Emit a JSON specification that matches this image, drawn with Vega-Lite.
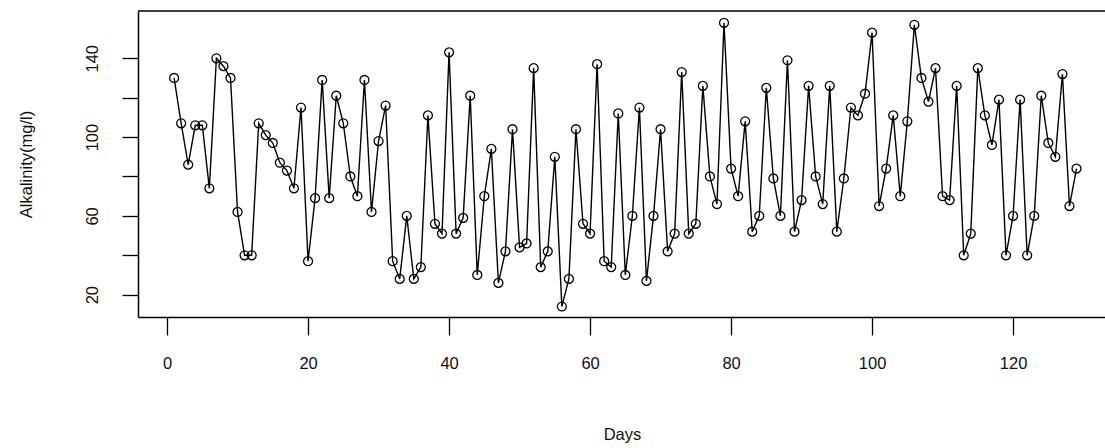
{
  "$schema": "https://vega.github.io/schema/vega-lite/v6.json",
  "width": 967,
  "height": 306,
  "autosize": {"type": "none"},
  "padding": {"left": 138, "top": 11, "right": 0, "bottom": 131},
  "background": "white",
  "config": {"view": {"stroke": null}, "font": "Liberation Sans"},
  "data": {"values": [
    {"day":1,"alk":130},{"day":2,"alk":107},{"day":3,"alk":86},{"day":4,"alk":106},{"day":5,"alk":106},
    {"day":6,"alk":74},{"day":7,"alk":140},{"day":8,"alk":136},{"day":9,"alk":130},{"day":10,"alk":62},
    {"day":11,"alk":40},{"day":12,"alk":40},{"day":13,"alk":107},{"day":14,"alk":101},{"day":15,"alk":97},
    {"day":16,"alk":87},{"day":17,"alk":83},{"day":18,"alk":74},{"day":19,"alk":115},{"day":20,"alk":37},
    {"day":21,"alk":69},{"day":22,"alk":129},{"day":23,"alk":69},{"day":24,"alk":121},{"day":25,"alk":107},
    {"day":26,"alk":80},{"day":27,"alk":70},{"day":28,"alk":129},{"day":29,"alk":62},{"day":30,"alk":98},
    {"day":31,"alk":116},{"day":32,"alk":37},{"day":33,"alk":28},{"day":34,"alk":60},{"day":35,"alk":28},
    {"day":36,"alk":34},{"day":37,"alk":111},{"day":38,"alk":56},{"day":39,"alk":51},{"day":40,"alk":143},
    {"day":41,"alk":51},{"day":42,"alk":59},{"day":43,"alk":121},{"day":44,"alk":30},{"day":45,"alk":70},
    {"day":46,"alk":94},{"day":47,"alk":26},{"day":48,"alk":42},{"day":49,"alk":104},{"day":50,"alk":44},
    {"day":51,"alk":46},{"day":52,"alk":135},{"day":53,"alk":34},{"day":54,"alk":42},{"day":55,"alk":90},
    {"day":56,"alk":14},{"day":57,"alk":28},{"day":58,"alk":104},{"day":59,"alk":56},{"day":60,"alk":51},
    {"day":61,"alk":137},{"day":62,"alk":37},{"day":63,"alk":34},{"day":64,"alk":112},{"day":65,"alk":30},
    {"day":66,"alk":60},{"day":67,"alk":115},{"day":68,"alk":27},{"day":69,"alk":60},{"day":70,"alk":104},
    {"day":71,"alk":42},{"day":72,"alk":51},{"day":73,"alk":133},{"day":74,"alk":51},{"day":75,"alk":56},
    {"day":76,"alk":126},{"day":77,"alk":80},{"day":78,"alk":66},{"day":79,"alk":158},{"day":80,"alk":84},
    {"day":81,"alk":70},{"day":82,"alk":108},{"day":83,"alk":52},{"day":84,"alk":60},{"day":85,"alk":125},
    {"day":86,"alk":79},{"day":87,"alk":60},{"day":88,"alk":139},{"day":89,"alk":52},{"day":90,"alk":68},
    {"day":91,"alk":126},{"day":92,"alk":80},{"day":93,"alk":66},{"day":94,"alk":126},{"day":95,"alk":52},
    {"day":96,"alk":79},{"day":97,"alk":115},{"day":98,"alk":111},{"day":99,"alk":122},{"day":100,"alk":153},
    {"day":101,"alk":65},{"day":102,"alk":84},{"day":103,"alk":111},{"day":104,"alk":70},{"day":105,"alk":108},
    {"day":106,"alk":157},{"day":107,"alk":130},{"day":108,"alk":118},{"day":109,"alk":135},{"day":110,"alk":70},
    {"day":111,"alk":68},{"day":112,"alk":126},{"day":113,"alk":40},{"day":114,"alk":51},{"day":115,"alk":135},
    {"day":116,"alk":111},{"day":117,"alk":96},{"day":118,"alk":119},{"day":119,"alk":40},{"day":120,"alk":60},
    {"day":121,"alk":119},{"day":122,"alk":40},{"day":123,"alk":60},{"day":124,"alk":121},{"day":125,"alk":97},
    {"day":126,"alk":90},{"day":127,"alk":132},{"day":128,"alk":65},{"day":129,"alk":84}
  ]},
  "layer": [
    {
      "mark": {"type": "line", "color": "black", "strokeWidth": 1.4},
      "encoding": {
        "x": {
          "field": "day", "type": "quantitative",
          "scale": {"domain": [-4.12, 133.04], "nice": false, "zero": false},
          "axis": {
            "values": [0, 20, 40, 60, 80, 100, 120],
            "grid": false,
            "tickSize": 18, "tickColor": "black", "tickWidth": 1.3,
            "domainColor": "black", "domainWidth": 1.5,
            "labelFontSize": 16.5, "labelColor": "#111111", "labelPadding": 20,
            "labelFlush": false, "labelOverlap": false,
            "title": "Days",
            "titleFontSize": 16.5, "titleFontWeight": "normal", "titleColor": "#111111",
            "titleX": 484, "titleY": 122, "titleBaseline": "alphabetic", "titleAlign": "center"
          }
        },
        "y": {
          "field": "alk", "type": "quantitative",
          "scale": {"domain": [8.67, 164.0], "nice": false, "zero": false},
          "axis": {
            "values": [20, 40, 60, 80, 100, 120, 140],
            "labelExpr": "datum.value % 40 == 20 ? datum.label : ''",
            "grid": false,
            "tickSize": 16, "tickColor": "black", "tickWidth": 1.3,
            "domainColor": "black", "domainWidth": 1.5,
            "labelFontSize": 16.5, "labelColor": "#111111", "labelPadding": 25,
            "labelAngle": -90, "labelAlign": "center", "labelBaseline": "alphabetic",
            "labelFlush": false, "labelOverlap": false,
            "title": "Alkalinity(mg/l)", "titleFontSize": 16.5, "titleFontWeight": "normal", "titleColor": "#111111",
            "titleAngle": -90, "titleX": -107, "titleY": 153, "titleBaseline": "alphabetic", "titleAlign": "center"
          }
        }
      }
    },
    {
      "mark": {"type": "point", "shape": "circle", "filled": false, "color": "black", "size": 80, "strokeWidth": 1.3, "opacity": 1},
      "encoding": {
        "x": {"field": "day", "type": "quantitative"},
        "y": {"field": "alk", "type": "quantitative"}
      }
    },
    {
      "data": {"values": [{"frame": "top"}]},
      "mark": {"type": "rule", "color": "black", "strokeWidth": 1.5},
      "encoding": {"y": {"datum": 164.0}}
    }
  ]
}
